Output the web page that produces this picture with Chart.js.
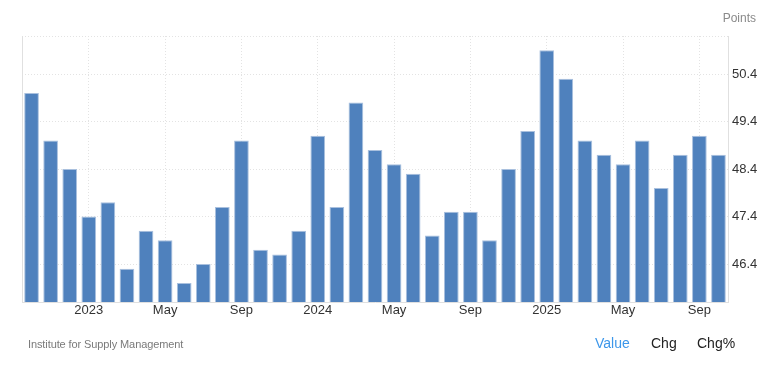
<!DOCTYPE html>
<html>
<head>
<meta charset="utf-8">
<script src="https://cdn.jsdelivr.net/npm/chart.js@4"></script>
<style>
  html, body { margin: 0; padding: 0; background: #fff; }
  body { width: 768px; height: 370px; position: relative; overflow: hidden; font-family: "Liberation Sans", Arial, sans-serif; }
  #wrap { position: absolute; left: 0; top: 0; width: 768px; height: 370px; }
  .unit { position: absolute; right: 12px; top: 11px; font-size: 12px; color: #8a8a8a; }
  .src  { position: absolute; left: 28px; top: 338px; font-size: 11px; color: #7a7a7a; letter-spacing: -0.1px; }
  .tabs { position: absolute; top: 335px; font-size: 14px; color: #222; }
  .tabs span { position: absolute; white-space: nowrap; }
</style>
</head>
<body>
<div id="wrap"><canvas id="c" width="768" height="370"></canvas></div>
<div class="unit">Points</div>
<div class="src">Institute for Supply Management</div>
<div class="tabs">
  <span style="left:595px;color:#3d97ea">Value</span>
  <span style="left:651px">Chg</span>
  <span style="left:697px">Chg%</span>
</div>
<script>
const months = [
  'Oct 2022','Nov 2022','Dec 2022',
  'Jan 2023','Feb 2023','Mar 2023','Apr 2023','May 2023','Jun 2023','Jul 2023','Aug 2023','Sep 2023','Oct 2023','Nov 2023','Dec 2023',
  'Jan 2024','Feb 2024','Mar 2024','Apr 2024','May 2024','Jun 2024','Jul 2024','Aug 2024','Sep 2024','Oct 2024','Nov 2024','Dec 2024',
  'Jan 2025','Feb 2025','Mar 2025','Apr 2025','May 2025','Jun 2025','Jul 2025','Aug 2025','Sep 2025','Oct 2025'
];
const pmi = [
  50.0, 49.0, 48.4,
  47.4, 47.7, 46.3, 47.1, 46.9, 46.0, 46.4, 47.6, 49.0, 46.7, 46.6, 47.1,
  49.1, 47.6, 49.8, 48.8, 48.5, 48.3, 47.0, 47.5, 47.5, 46.9, 48.4, 49.2,
  50.9, 50.3, 49.0, 48.7, 48.5, 49.0, 48.0, 48.7, 49.1, 48.7
];
const tickLabels = [
  '', '', '',
  '2023', '', '', '', 'May', '', '', '', 'Sep', '', '', '',
  '2024', '', '', '', 'May', '', '', '', 'Sep', '', '', '',
  '2025', '', '', '', 'May', '', '', '', 'Sep', ''
];
const yTicks = [46.4, 47.4, 48.4, 49.4, 50.4];
const yMin = 45.6, yMax = 51.2;

const gridCol = '#e3e3e3';
const edgeCol = '#e0e0e0';

// solid line on the left side of the plot
const leftEdge = {
  id: 'leftEdge',
  afterDraw(chart) {
    const a = chart.chartArea, g = chart.ctx;
    g.save();
    g.strokeStyle = edgeCol; g.lineWidth = 1; g.setLineDash([]);
    g.beginPath(); g.moveTo(Math.round(a.left) + 0.5, a.top); g.lineTo(Math.round(a.left) + 0.5, a.bottom); g.stroke();
    g.restore();
  }
};

new Chart(document.getElementById('c'), {
  type: 'bar',
  data: { labels: months, datasets: [{
    data: pmi, backgroundColor: '#4f81bd', borderColor: '#a9c0de', borderWidth: 1,
    categoryPercentage: 1, barPercentage: 0.77
  }]},
  options: {
    responsive: false, animation: false,
    layout: { padding: { left: 22, top: 36, right: 0, bottom: 0 } },
    plugins: { legend: { display: false }, tooltip: { enabled: false } },
    scales: {
      x: {
        afterFit: s => { s.height = 68; },
        grid: { offset: false, drawTicks: false, color: ctx => tickLabels[ctx.index] ? gridCol : 'transparent', lineWidth: 1 },
        border: { display: true, color: edgeCol, dash: [1, 2] },
        ticks: { autoSkip: false, maxRotation: 0, padding: 1, color: '#333', font: { family: 'Liberation Sans', size: 13 },
                 callback: (v, i) => tickLabels[i] }
      },
      y: {
        position: 'right', min: yMin, max: yMax,
        afterFit: s => { s.width = 40; },
        afterBuildTicks: s => { s.ticks = yTicks.map(v => ({ value: v })).concat([{ value: yMax }]); },
        grid: { drawTicks: false, color: gridCol },
        border: { display: true, color: edgeCol, dash: [1, 2] },
        ticks: { padding: 4, color: '#333', font: { family: 'Liberation Sans', size: 13 },
                 callback: v => yTicks.includes(v) ? v.toFixed(1) : '' }
      }
    }
  },
  plugins: [leftEdge]
});
</script>
</body>
</html>
